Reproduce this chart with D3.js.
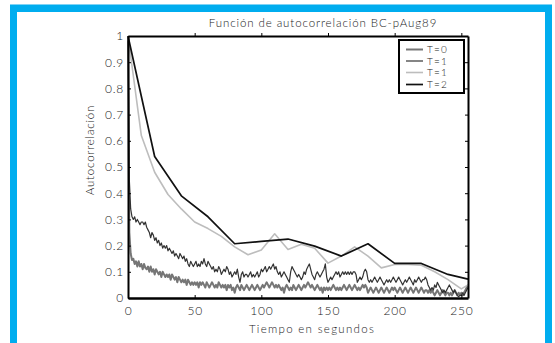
<!DOCTYPE html>
<html>
<head>
<meta charset="utf-8">
<script src="https://cdn.jsdelivr.net/npm/d3@7"></script>
<style>
  html, body { margin: 0; padding: 0; background: #fff; }
  svg { display: block; }
  text { font-family: Lato, "Open Sans", sans-serif; font-weight: 300; fill: #1a1a1a; }
</style>
</head>
<body>
<svg id="chart" width="555" height="343"></svg>
<script>
// Autocorrelation by lag (seconds), lags 0..255
const lagsT0 = d3.range(0, 256);
const acfT0 = [
  1.0, 0.25, 0.17, 0.145, 0.15, 0.13, 0.14, 0.12, 0.14, 0.12, 0.13, 0.11, 0.13, 0.115, 0.11, 0.12,
  0.10, 0.12, 0.10, 0.11, 0.09, 0.11, 0.10, 0.09, 0.10, 0.08, 0.10, 0.09, 0.08, 0.09, 0.08, 0.09,
  0.07, 0.09, 0.08, 0.07, 0.08, 0.06, 0.08, 0.07, 0.06, 0.07, 0.06, 0.07, 0.05, 0.07, 0.06, 0.05,
  0.06, 0.05, 0.06, 0.05, 0.06, 0.04, 0.06, 0.05, 0.06, 0.05, 0.04, 0.06, 0.05, 0.04, 0.05, 0.06,
  0.05, 0.04, 0.05, 0.04, 0.06, 0.05, 0.04, 0.05, 0.04, 0.05, 0.03, 0.05, 0.04, 0.05, 0.03, 0.04,
  0.02, 0.04, 0.05, 0.04, 0.03, 0.05, 0.04, 0.03, 0.04, 0.05, 0.04, 0.03, 0.04, 0.05, 0.04, 0.03,
  0.04, 0.05, 0.04, 0.03, 0.04, 0.05, 0.04, 0.05, 0.06, 0.05, 0.04, 0.05, 0.06, 0.05, 0.04, 0.05,
  0.04, 0.05, 0.04, 0.03, 0.04, 0.02, 0.04, 0.05, 0.04, 0.03, 0.04, 0.03, 0.05, 0.04, 0.03, 0.04,
  0.05, 0.04, 0.03, 0.04, 0.05, 0.04, 0.05, 0.06, 0.05, 0.04, 0.05, 0.04, 0.03, 0.04, 0.05, 0.04,
  0.03, 0.04, 0.02, 0.04, 0.03, 0.04, 0.03, 0.04, 0.03, 0.04, 0.05, 0.04, 0.03, 0.04, 0.03, 0.04,
  0.03, 0.04, 0.05, 0.04, 0.03, 0.04, 0.05, 0.04, 0.03, 0.04, 0.05, 0.04, 0.03, 0.04, 0.03, 0.04,
  0.05, 0.04, 0.05, 0.04, 0.02, 0.03, 0.04, 0.03, 0.02, 0.03, 0.04, 0.03, 0.02, 0.03, 0.04, 0.03,
  0.02, 0.03, 0.04, 0.03, 0.02, 0.03, 0.04, 0.03, 0.04, 0.03, 0.02, 0.03, 0.04, 0.03, 0.02, 0.03,
  0.04, 0.03, 0.02, 0.03, 0.04, 0.03, 0.02, 0.03, 0.04, 0.03, 0.02, 0.03, 0.04, 0.03, 0.02, 0.03,
  0.03, 0.02, 0.03, 0.02, 0.03, 0.02, 0.01, 0.02, 0.03, 0.02, 0.01, 0.02, 0.03, 0.02, 0.01, 0.02,
  0.02, 0.01, 0.02, 0.01, 0.02, 0.03, 0.02, 0.01, 0.02, 0.01, 0.02, 0.01, 0.02, 0.03, 0.04, 0.05
];

const lagsT1 = d3.range(0, 256);
const acfT1 = [
  1.0, 0.45, 0.34, 0.31, 0.30, 0.31, 0.29, 0.30, 0.29, 0.28, 0.29, 0.29, 0.28, 0.29, 0.27, 0.26,
  0.25, 0.23, 0.25, 0.24, 0.22, 0.23, 0.21, 0.22, 0.20, 0.21, 0.19, 0.20, 0.19, 0.20, 0.18, 0.19,
  0.18, 0.17, 0.18, 0.16, 0.17, 0.16, 0.15, 0.17, 0.16, 0.15, 0.16, 0.14, 0.15, 0.13, 0.12, 0.14,
  0.13, 0.12, 0.13, 0.14, 0.12, 0.13, 0.12, 0.14, 0.13, 0.15, 0.13, 0.12, 0.14, 0.13, 0.12, 0.11,
  0.12, 0.10, 0.11, 0.10, 0.12, 0.11, 0.09, 0.10, 0.11, 0.10, 0.12, 0.11, 0.09, 0.10, 0.08, 0.09,
  0.10, 0.09, 0.11, 0.08, 0.06, 0.09, 0.10, 0.08, 0.09, 0.09, 0.08, 0.09, 0.10, 0.08, 0.09, 0.08,
  0.09, 0.10, 0.08, 0.09, 0.11, 0.10, 0.11, 0.12, 0.10, 0.11, 0.12, 0.11, 0.12, 0.13, 0.11, 0.12,
  0.10, 0.09, 0.10, 0.08, 0.09, 0.10, 0.09, 0.08, 0.07, 0.06, 0.10, 0.12, 0.11, 0.10, 0.09, 0.08,
  0.09, 0.08, 0.07, 0.08, 0.10, 0.09, 0.11, 0.12, 0.13, 0.11, 0.09, 0.08, 0.07, 0.09, 0.10, 0.09,
  0.08, 0.09, 0.10, 0.11, 0.13, 0.08, 0.06, 0.07, 0.08, 0.07, 0.08, 0.09, 0.10, 0.09, 0.10, 0.08,
  0.09, 0.10, 0.09, 0.10, 0.09, 0.10, 0.09, 0.10, 0.09, 0.10, 0.10, 0.09, 0.06, 0.07, 0.08, 0.07,
  0.08, 0.10, 0.11, 0.10, 0.07, 0.06, 0.07, 0.06, 0.07, 0.08, 0.07, 0.06, 0.07, 0.08, 0.07, 0.06,
  0.05, 0.06, 0.07, 0.06, 0.07, 0.06, 0.07, 0.08, 0.07, 0.06, 0.07, 0.08, 0.07, 0.06, 0.05, 0.06,
  0.07, 0.06, 0.07, 0.08, 0.07, 0.06, 0.05, 0.07, 0.06, 0.07, 0.08, 0.07, 0.06, 0.07, 0.07, 0.08,
  0.07, 0.05, 0.04, 0.03, 0.04, 0.03, 0.05, 0.04, 0.06, 0.05, 0.04, 0.03, 0.02, 0.03, 0.02, 0.03,
  0.04, 0.05, 0.04, 0.03, 0.02, 0.03, 0.02, 0.01, 0.005, 0.01, 0.01, 0.02, 0.01, 0.02, 0.03, 0.04
];

// Coarser estimates: light curve sampled every 10 s, dark curve every 20 s
const lagsT1b = [0, 10, 20, 30, 40, 50, 60, 70, 80, 90, 100, 110, 120, 130, 140, 150, 160, 170, 180, 190, 200, 210, 220, 230, 240, 250, 255];
const acfT1b = [1.0, 0.62, 0.48, 0.395, 0.34, 0.29, 0.265, 0.235, 0.195, 0.165, 0.183, 0.245, 0.185, 0.205, 0.19, 0.133, 0.16, 0.195, 0.16, 0.115, 0.128, 0.128, 0.125, 0.10, 0.07, 0.035, 0.05];

const lagsT2 = [0, 20, 40, 60, 80, 100, 120, 140, 160, 180, 200, 220, 240, 255];
const acfT2 = [1.0, 0.54, 0.39, 0.31, 0.207, 0.216, 0.225, 0.198, 0.16, 0.207, 0.132, 0.132, 0.09, 0.072];

const legendLabels = ["T=0", "T=1", "T=1", "T=2"];
const xTicks = [0, 50, 100, 150, 200, 250];
const yTicks = [0, 0.1, 0.2, 0.3, 0.4, 0.5, 0.6, 0.7, 0.8, 0.9, 1];

const titleText = "Función de autocorrelación BC-pAug89";
const xTitle = "Tiempo en segundos";
const yTitle = "Autocorrelación";

const svg = d3.select("#chart");

// Cyan frame with white panel
svg.append("rect").attr("x", 10).attr("y", 4).attr("width", 542).attr("height", 345)
  .attr("fill", "#00adef");
svg.append("rect").attr("x", 10).attr("y", 4).attr("width", 542).attr("height", 1)
  .attr("fill", "#7fd3f5");
svg.append("rect").attr("x", 17).attr("y", 12).attr("width", 528).attr("height", 335)
  .attr("fill", "#fff");

const x = d3.scaleLinear().domain([0, 255]).range([128, 468]);
const y = d3.scaleLinear().domain([0, 1]).range([298, 36]);

const series = [
  { lags: lagsT0, vals: acfT0, color: "#767676", width: 2 },
  { lags: lagsT1, vals: acfT1, color: "#333333", width: 1.2 },
  { lags: lagsT1b, vals: acfT1b, color: "#bdbdbd", width: 1.6 },
  { lags: lagsT2, vals: acfT2, color: "#111111", width: 1.7 }
];

const line = d3.line().x(d => x(d[0])).y(d => y(d[1]));

const plot = svg.append("g");
plot.selectAll("path.series")
  .data(series)
  .join("path")
  .attr("class", "series")
  .attr("fill", "none")
  .attr("stroke", d => d.color)
  .attr("stroke-width", d => d.width)
  .attr("stroke-linejoin", "round")
  .attr("d", d => line(d.lags.map((l, i) => [l, d.vals[i]])));

// Axes: ticks point inward, labels on bottom and left
function styleAxis(g, w) {
  g.select(".domain").attr("stroke", "#000").attr("stroke-width", w);
  g.selectAll(".tick line").attr("stroke", "#000").attr("stroke-width", 1);
  g.selectAll(".tick text").style("font-size", "12px").style("letter-spacing", "0.8px").attr("fill", "#1a1a1a");
}

svg.append("g").attr("transform", "translate(0,298)")
  .call(d3.axisBottom(x).tickValues(xTicks).tickSizeInner(-3).tickSizeOuter(0).tickPadding(8).tickFormat(d3.format("d")))
  .call(g => styleAxis(g, 2.5));

svg.append("g").attr("transform", "translate(128,0)")
  .call(d3.axisLeft(y).tickValues(yTicks).tickSizeInner(-3).tickSizeOuter(0).tickPadding(4).tickFormat(d => d === 0 ? "0" : d === 1 ? "1" : d3.format(".1f")(d)))
  .call(g => styleAxis(g, 2));

svg.append("g").attr("transform", "translate(0,36)")
  .call(d3.axisTop(x).tickValues(xTicks.slice(1)).tickSizeInner(3).tickSizeOuter(0).tickFormat(""))
  .call(g => styleAxis(g, 2));

svg.append("g").attr("transform", "translate(468,0)")
  .call(d3.axisRight(y).tickValues(yTicks).tickSizeInner(-3).tickSizeOuter(0).tickFormat(""))
  .call(g => styleAxis(g, 2));

// Titles
svg.append("text").attr("x", 323).attr("y", 27).attr("text-anchor", "middle")
  .style("font-size", "11.5px").style("letter-spacing", "0.9px").text(titleText);
svg.append("text").attr("x", 312).attr("y", 333).attr("text-anchor", "middle")
  .style("font-size", "11.5px").style("letter-spacing", "1.3px").text(xTitle);
svg.append("text").attr("transform", "translate(94,150) rotate(-90)").attr("text-anchor", "middle")
  .style("font-size", "11.5px").style("letter-spacing", "0.8px").text(yTitle);

// Legend
const legend = svg.append("g");
legend.append("rect").attr("x", 399).attr("y", 40).attr("width", 65).attr("height", 53)
  .attr("fill", "#fff").attr("stroke", "#000").attr("stroke-width", 2);
const rowsY = [49.5, 61, 72.5, 84.5];
const items = legend.selectAll("g.item").data(series).join("g").attr("class", "item")
  .attr("transform", (d, i) => `translate(0,${rowsY[i]})`);
items.append("line").attr("x1", 406).attr("x2", 423).attr("y1", 0).attr("y2", 0)
  .attr("stroke", d => d.color).attr("stroke-width", d => d.width);
items.append("text").attr("x", 427).attr("y", 0).attr("dy", "0.35em")
  .style("font-size", "10px").style("letter-spacing", "1.2px").text((d, i) => legendLabels[i]);
</script>
</body>
</html>
